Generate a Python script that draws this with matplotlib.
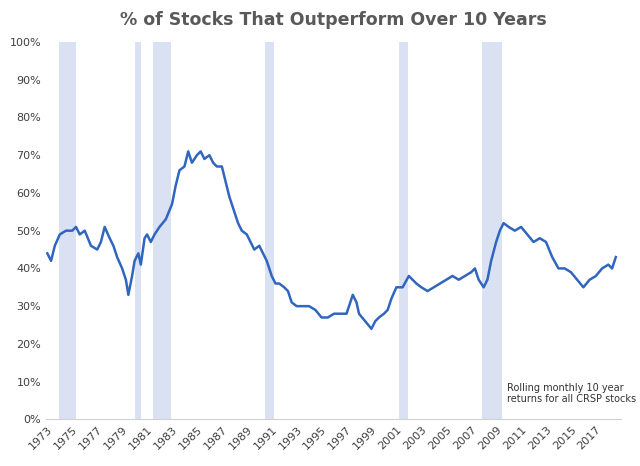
import matplotlib
matplotlib.use("Agg")
import matplotlib.pyplot as plt
from matplotlib.ticker import PercentFormatter

years = [1973.0,1973.3,1973.6,1974.0,1974.5,1975.0,1975.3,1975.6,1976.0,1976.5,1977.0,1977.3,1977.6,1978.0,1978.3,1978.6,1979.0,1979.3,1979.5,1979.8,
 1980.0,1980.3,1980.5,1980.8,1981.0,1981.3,1981.6,1982.0,1982.5,1983.0,1983.3,1983.6,1984.0,1984.3,1984.6,1985.0,1985.3,1985.6,1986.0,1986.3,1986.6,
 1987.0,1987.3,1987.6,1988.0,1988.3,1988.6,1989.0,1989.3,1989.6,1990.0,1990.3,1990.6,1991.0,1991.3,1991.6,1992.0,1992.3,1992.6,1993.0,1993.5,1994.0,1994.5,
 1995.0,1995.5,1996.0,1996.5,1997.0,1997.3,1997.5,1997.8,1998.0,1998.5,1999.0,1999.3,1999.6,2000.0,2000.3,2000.6,2001.0,2001.5,2002.0,2002.3,2002.6,
 2003.0,2003.5,2004.0,2004.5,2005.0,2005.5,2006.0,2006.5,2007.0,2007.3,2007.6,2008.0,2008.3,2008.6,2009.0,2009.3,2009.6,2010.0,2010.5,2011.0,2011.5,
 2012.0,2012.5,2013.0,2013.5,2014.0,2014.5,2015.0,2015.5,2016.0,2016.5,2017.0,2017.5,2018.0,2018.3,2018.6]
pct = [44,42,46,49,50,50,51,49,50,46,45,47,51,48,46,43,40,37,33,38,
 42,44,41,48,49,47,49,51,53,57,62,66,67,71,68,70,71,69,70,68,67,
 67,63,59,55,52,50,49,47,45,46,44,42,38,36,36,35,34,31,30,30,30,29,
 27,27,28,28,28,31,33,31,28,26,24,26,27,28,29,32,35,35,38,37,36,
 35,34,35,36,37,38,37,38,39,40,37,35,37,42,47,50,52,51,50,51,49,
 47,48,47,43,40,40,39,37,35,37,38,40,41,40,43]
rec_start = [1973.9,1980.0,1981.5,1990.5,2001.2,2007.9]
rec_end = [1975.3,1980.5,1982.9,1991.2,2001.9,2009.5]
tick_years = list(range(1973, 2018, 2))

fig, ax = plt.subplots(figsize=(6.4, 4.66), dpi=100)
fig.subplots_adjust(left=0.072, right=0.97, top=0.91, bottom=0.1)
for s, e in zip(rec_start, rec_end):
    ax.axvspan(s, e, color="#d9e1f2", lw=0)
ax.plot(years, pct, color="#3066be", lw=1.8)
ax.set_ylim(0, 100)
ax.set_xlim(1972.9, 2019.0)
ax.yaxis.set_major_formatter(PercentFormatter(decimals=0))
ax.set_yticks(range(0, 101, 10))
ax.set_xticks(tick_years)
ax.set_xticklabels([str(y) for y in tick_years], rotation=45, ha="right", rotation_mode="anchor")
ax.tick_params(labelsize=8, colors="#404040", length=0)
for sp in ["top", "right", "left"]:
    ax.spines[sp].set_visible(False)
ax.spines["bottom"].set_color("#d0d0d0")
ax.set_title("% of Stocks That Outperform Over 10 Years", fontsize=12.5, fontweight="bold", color="#595959", pad=12)
ax.text(2009.9, 4.5, "Rolling monthly 10 year\nreturns for all CRSP stocks", fontsize=7, color="#333333")
fig.savefig("out.png")
